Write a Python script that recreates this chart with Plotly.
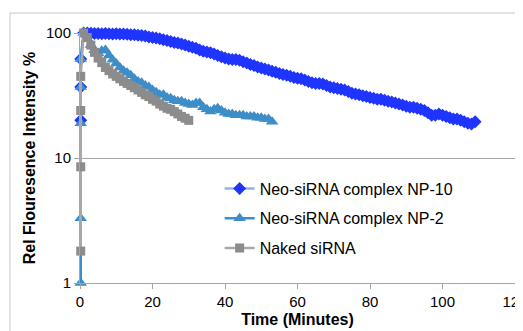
import plotly.graph_objects as go

# ---- data ----
np10_time = [0.2, 0.2, 0.2] + list(range(1, 110))
np10_vals = [20, 37, 62,
    100, 100, 99.5, 99, 99, 98.5, 99, 98.5, 98, 98.5,
    98, 98, 97.5, 97, 97, 96, 95.5, 94.5, 93, 92,
    91, 90, 88.5, 87, 85.5, 84, 83, 81.5, 80, 78.5,
    77, 75.5, 73, 71.5, 70.5, 69.5, 68, 66, 64.5, 63,
    62, 61.5, 61.5, 60.5, 59, 57.5, 56, 55, 53.5, 52.5,
    51.5, 50.5, 49.5, 48.5, 47.5, 46.5, 46, 45, 44, 43.5,
    43, 42, 41, 40, 39.5, 39.5, 39, 38, 37, 36.5,
    36, 35.5, 35, 34, 33, 32.5, 32, 31.5, 31, 30.5,
    30, 29.5, 29.5, 29, 28.5, 28, 27.5, 27, 26.5, 26,
    25.5, 25.5, 25, 24.5, 24, 23, 22, 22, 22.5, 22,
    21.5, 21, 20.5, 20.5, 20, 19.5, 19, 18.7, 19.5]

np2_time = [0.2, 0.2, 0.2, 0.2, 0.2] + list(range(1, 54))
np2_vals = [1.0, 3.3, 19, 37, 62,
    100, 90, 80, 73, 69, 72, 73, 66, 61, 57,
    53, 50, 48, 46, 43, 41, 40, 38, 37, 35,
    33.5, 32, 32, 30.5, 30, 29, 28.5, 28.5, 27.5, 27,
    26.5, 27.5, 27.5, 25.5, 24.5, 23.5, 24.5, 25, 24, 23,
    22.5, 22.5, 22, 22, 22, 21.5, 21.5, 21.5, 21, 21,
    20.5, 20.5, 19.5]

naked_time = [0.2, 0.2, 0.2, 0.2] + list(range(1, 31))
naked_vals = [1.8, 8.5, 24, 45,
    100, 92, 80, 70, 63, 58, 53, 50, 47, 45,
    43, 41, 39.5, 38, 36.5, 35, 33.5, 32, 31, 29.5,
    28.5, 27, 26, 25, 24.5, 23.5, 22.5, 21.5, 20.8, 20]

series_names = ["Neo-siRNA complex NP-10", "Neo-siRNA complex NP-2", "Naked siRNA"]
x_ticks = [0, 20, 40, 60, 80, 100, 120]
y_ticks = [1, 10, 100]

FONT = "Liberation Sans, Arial, Helvetica, sans-serif"
AXIS_GREY = "#a6a6a6"

fig = go.Figure()
fig.add_trace(go.Scatter(
    x=np10_time, y=np10_vals, name=series_names[0], legendgroup="a",
    mode="lines+markers", cliponaxis=False,
    line=dict(color="#8db4e2", width=2.5),
    marker=dict(symbol="diamond", size=10, color="#1f35ff")))
fig.add_trace(go.Scatter(
    x=np2_time, y=np2_vals, name=series_names[1], legendgroup="b",
    mode="lines+markers", cliponaxis=False,
    line=dict(color="#3c8dc8", width=2.5),
    marker=dict(symbol="triangle-up", size=11, color="#3c8dc8")))
fig.add_trace(go.Scatter(
    x=naked_time, y=naked_vals, name=series_names[2], legendgroup="c",
    mode="lines+markers", cliponaxis=False,
    line=dict(color="#a9a9a9", width=2.5),
    marker=dict(symbol="square", size=9, color="#8c8c8c")))

# the page shows the figure with an 8px body offset, so margins compensate
fig.update_layout(
    width=523, height=331,
    margin=dict(l=72, r=16, t=25, b=56, autoexpand=False),
    paper_bgcolor="white", plot_bgcolor="white",
    font=dict(family=FONT, size=14, color="black"),
    showlegend=True,
    legend=dict(x=0.321, y=0.446, xanchor="left", yanchor="top",
                font=dict(size=16), tracegroupgap=6,
                bgcolor="rgba(0,0,0,0)"),
    shapes=[dict(type="rect", xref="paper", yref="paper",
                 x0=-0.161, x1=1.2, y0=-0.4, y1=1.08,
                 line=dict(color="#c8c8c8", width=1), layer="below")],
)
fig.update_xaxes(
    range=[0, 120], tickvals=x_ticks, showgrid=False, zeroline=False,
    automargin=False,
    showline=True, linecolor=AXIS_GREY, linewidth=1,
    ticks="outside", ticklen=5, tickcolor=AXIS_GREY,
    tickfont=dict(size=15),
    title=dict(text="Time (Minutes)", standoff=4,
               font=dict(size=16, weight="bold")))
fig.update_yaxes(
    type="log", range=[0, 2], tickvals=y_ticks, ticktext=[str(v) for v in y_ticks],
    automargin=False,
    showgrid=True, gridcolor=AXIS_GREY, gridwidth=1, zeroline=False,
    showline=True, linecolor=AXIS_GREY, linewidth=1,
    ticks="outside", ticklen=5, tickcolor=AXIS_GREY,
    tickfont=dict(size=15),
    title=dict(text="Rel Flouresence Intensity %", standoff=6,
               font=dict(size=16, weight="bold")))

fig.write_html("out.html")
